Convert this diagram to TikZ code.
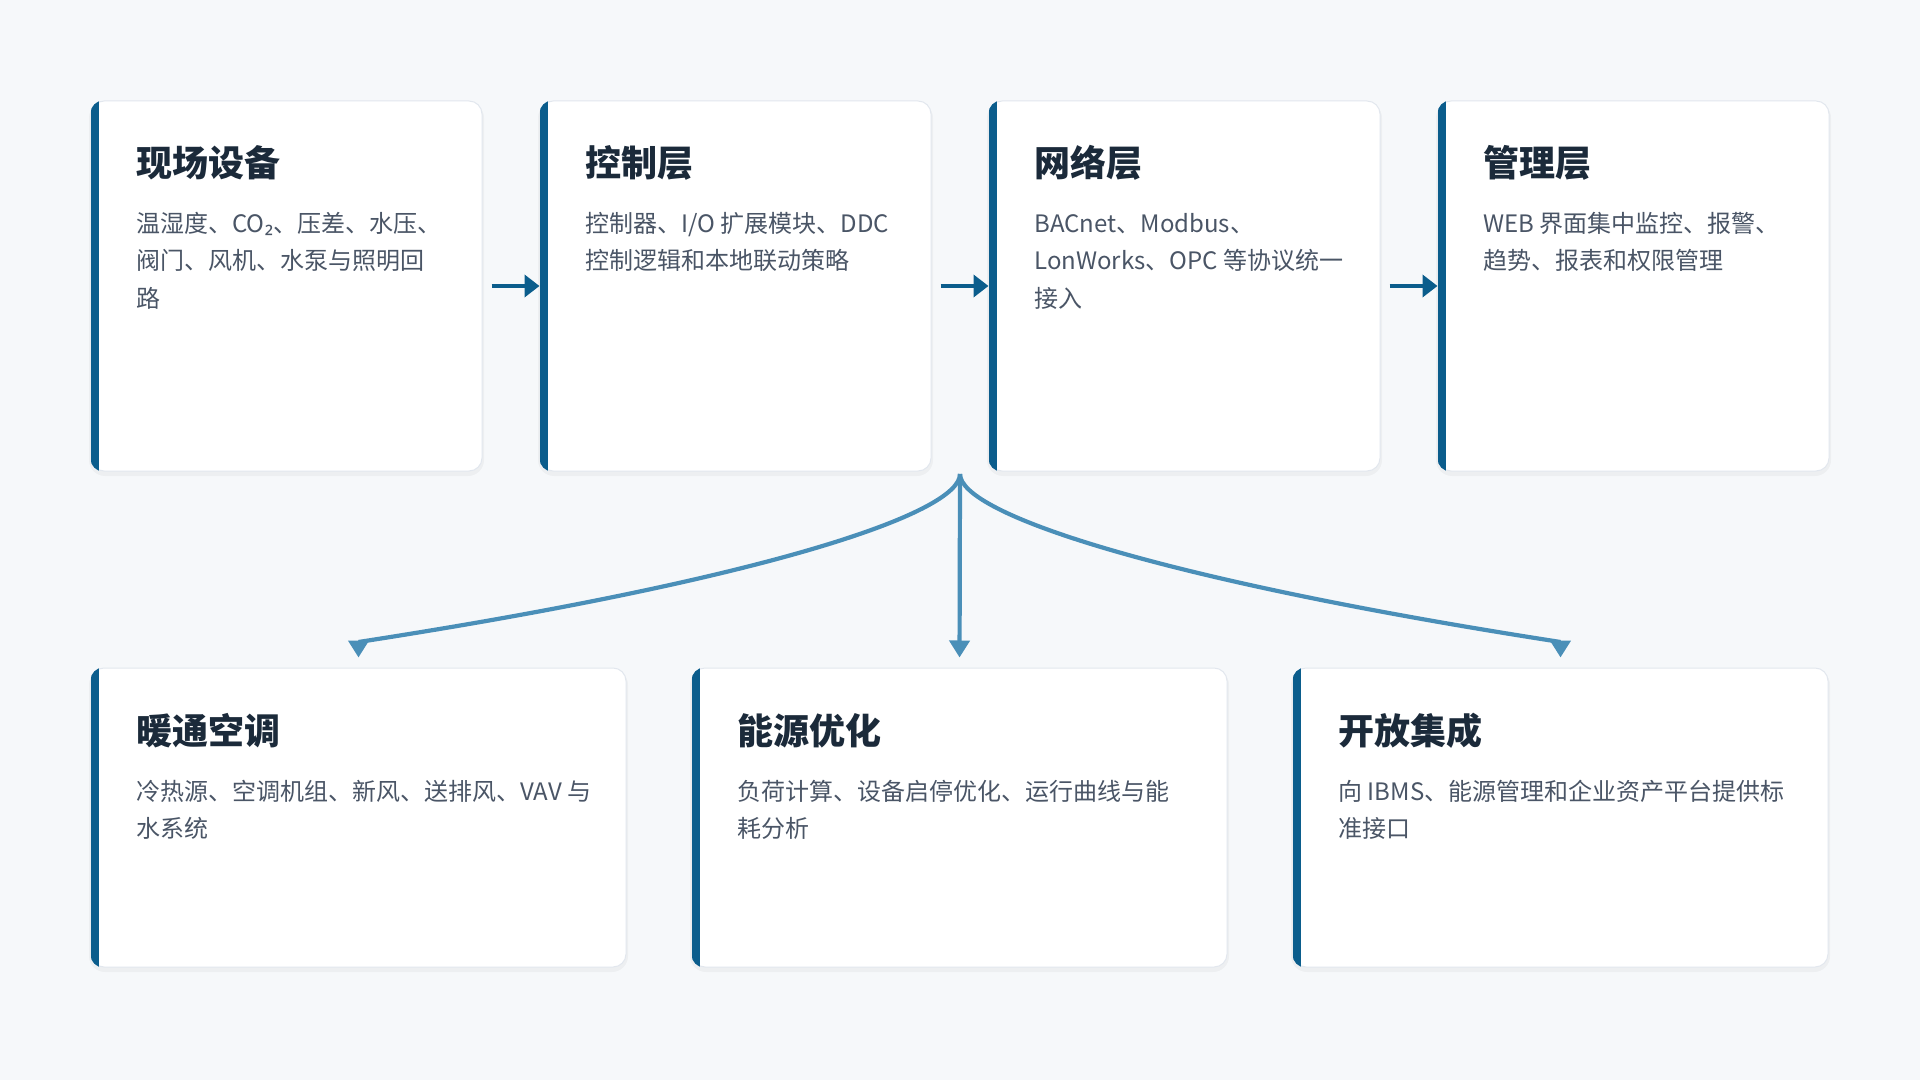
\documentclass[tikz,border=0pt]{standalone}
\usepackage{fontspec}
\setmainfont{Noto Sans CJK SC}
\newfontfamily\subfont{Noto Sans}
\usetikzlibrary{arrows.meta}
\definecolor{bgc}{HTML}{F6F8FA}
\definecolor{barblue}{HTML}{0B5D8C}
\definecolor{titlec}{HTML}{1B2A3A}
\definecolor{bodyc}{HTML}{4A5566}
\definecolor{fanc}{HTML}{4A8FB8}
\definecolor{cardborder}{HTML}{E2E7EE}
\tikzset{
  cardbox/.style={draw=cardborder, line width=0.5pt, fill=white, rounded corners=6.5pt, inner sep=0pt},
  topcard/.style={cardbox, minimum width=195.5pt, minimum height=185pt},
  botcard/.style={cardbox, minimum width=267.5pt, minimum height=149.5pt},
  cardtitle/.style={anchor=base west, inner sep=0pt, text=titlec, font=\bfseries\fontsize{18pt}{22pt}\selectfont},
  cardbody/.style={anchor=base west, inner sep=0pt, align=left, text=bodyc, font=\fontsize{12pt}{18.5pt}\selectfont},
  flowarrow/.style={draw=barblue, line width=2pt, -{Triangle[length=7.5pt,width=11pt]}, shorten <=4.5pt},
  fanline/.style={draw=fanc, line width=2.1pt, -{Triangle[length=8.5pt,width=10pt]}, shorten >=5pt},
}
\newcommand{\leftbar}[1]{%
  \begin{scope}
    \clip[rounded corners=6.5pt] (#1.south west) rectangle (#1.north east);
    \fill[barblue] (#1.south west) rectangle ([xshift=4pt]#1.north west);
  \end{scope}}
\begin{document}
\begin{tikzpicture}[x=0.5pt,y=-0.5pt]
\fill[bgc] (0,0) rectangle (1920,1080);
\useasboundingbox (0,0) rectangle (1920,1080);
% shadows
\foreach \cx/\cy/\w/\h in {286.5/286/391/370, 735.5/286/391/370, 1184.5/286/391/370, 1633.5/286/391/370, 358.5/817.5/535/299, 959.5/817.5/535/299, 1560.5/817.5/535/299}{
  \fill[black, opacity=0.035, rounded corners=8pt] (\cx-\w/2-2, \cy-\h/2+1) rectangle (\cx+\w/2+2, \cy+\h/2+5);
}
% top cards
\node[topcard] (c1) at (286.5,286) {};
\node[topcard] (c2) at (735.5,286) {};
\node[topcard] (c3) at (1184.5,286) {};
\node[topcard] (c4) at (1633.5,286) {};
% bottom cards
\node[botcard] (b1) at (358.5,817.5) {};
\node[botcard] (b2) at (959.5,817.5) {};
\node[botcard] (b3) at (1560.5,817.5) {};
\leftbar{c1}\leftbar{c2}\leftbar{c3}\leftbar{c4}
\leftbar{b1}\leftbar{b2}\leftbar{b3}
% texts top (base anchor = last line baseline)
\node[cardtitle] (t1) at (136,177) {现场设备};
\node[cardbody] (d1) at (136,307) {温湿度、CO{\subfont ₂}、压差、水压、\\阀门、风机、水泵与照明回\\路};
\node[cardtitle] (t2) at (585,177) {控制层};
\node[cardbody] (d2) at (585,270) {控制器、I/O 扩展模块、DDC\\控制逻辑和本地联动策略};
\node[cardtitle] (t3) at (1034,177) {网络层};
\node[cardbody] (d3) at (1034,307) {BACnet、Modbus、\\LonWorks、OPC 等协议统一\\接入};
\node[cardtitle] (t4) at (1483,177) {管理层};
\node[cardbody] (d4) at (1483,270) {WEB 界面集中监控、报警、\\趋势、报表和权限管理};
% texts bottom
\node[cardtitle] (t5) at (136,744) {暖通空调};
\node[cardbody] (d5) at (136,837) {冷热源、空调机组、新风、送排风、VAV 与\\水系统};
\node[cardtitle] (t6) at (737,744) {能源优化};
\node[cardbody] (d6) at (737,837) {负荷计算、设备启停优化、运行曲线与能\\耗分析};
\node[cardtitle] (t7) at (1338,744) {开放集成};
\node[cardbody] (d7) at (1338,837) {向 IBMS、能源管理和企业资产平台提供标\\准接口};
% flow arrows
\draw[flowarrow] (c1.east) -- (c2.west);
\draw[flowarrow] (c2.east) -- (c3.west);
\draw[flowarrow] (c3.east) -- (c4.west);
% fan
\coordinate (fan) at (960,474);
\coordinate (lend) at (358.5,642);
\coordinate (rend) at (1560.5,642);
\draw[fanline] (fan) .. controls (960,514) and (760,580) .. (lend) -- (b1.north);
\draw[fanline] (fan) -- (b2.north);
\draw[fanline] (fan) .. controls (960,514) and (1160,580) .. (rend) -- (b3.north);
\end{tikzpicture}
\end{document}
